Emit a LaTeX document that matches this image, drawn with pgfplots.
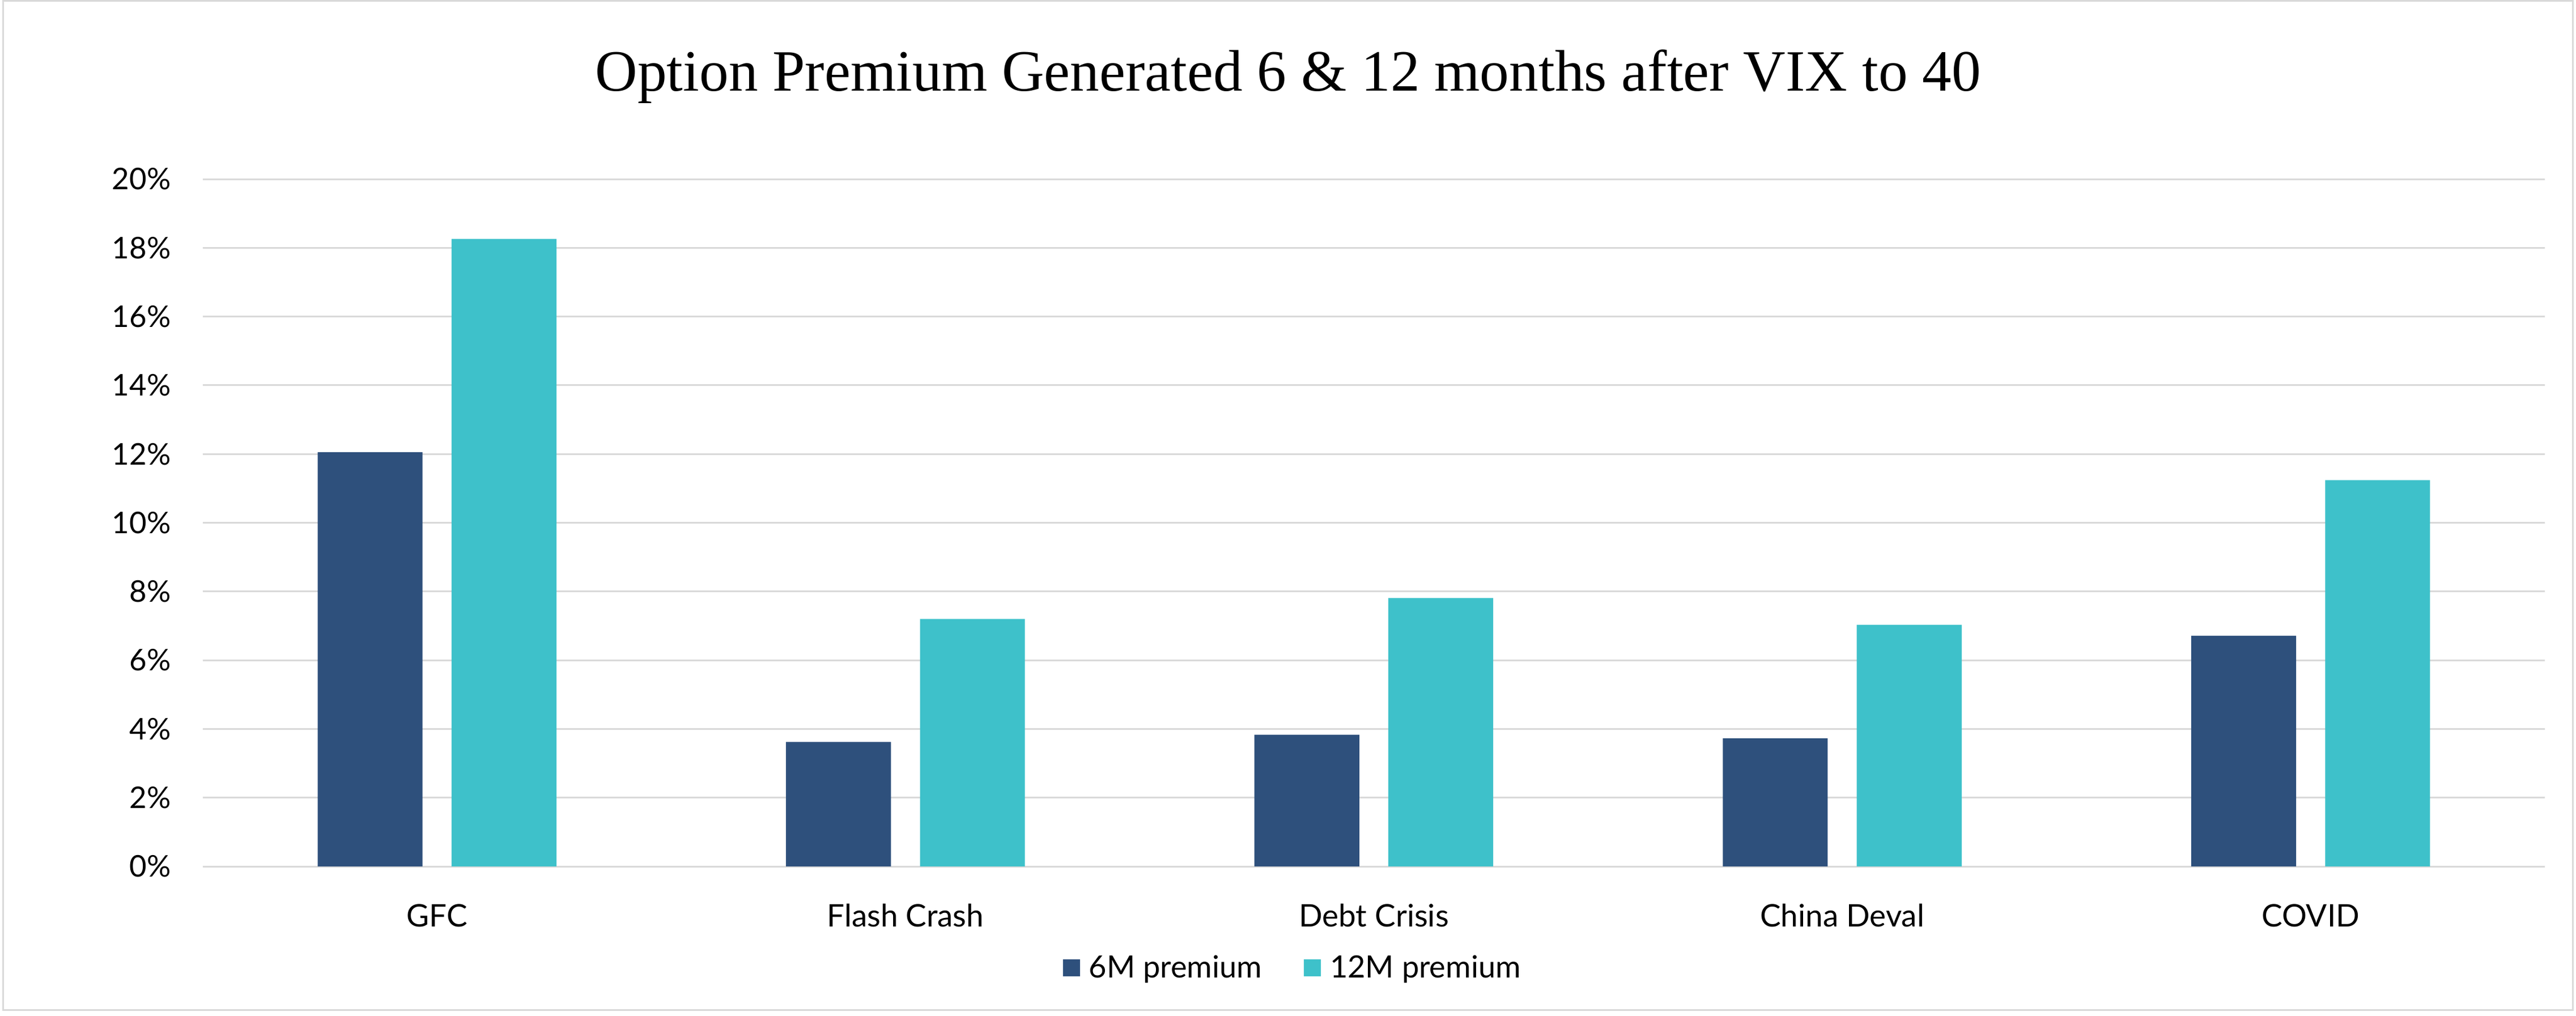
\documentclass[border=0pt]{standalone}
\usepackage{pgfplots}
\pgfplotsset{compat=1.18}
\usepackage{fontspec}
\setmainfont{Lato}
\newfontfamily\titlefont{Liberation Serif}

\definecolor{sixm}{HTML}{2E507C}
\definecolor{twelvem}{HTML}{3EC1CA}
\definecolor{gridgray}{HTML}{D9D9D9}

\begin{document}
\begin{tikzpicture}
\useasboundingbox (-3.58cm,-2.63cm) rectangle (41.88cm,15.29cm);
\draw[gridgray, line width=0.03cm] (-3.525cm,-2.535cm) rectangle (41.825cm,15.275cm);
\begin{axis}[
    at={(0,0)}, anchor=south west,
    scale only axis,
    width=41.33cm,
    height=12.13cm,
    xmin=-0.5, xmax=4.5,
    ymin=0, ymax=20,
    ytick={0,2,...,20},
    xtick={0,1,2,3,4},
    xticklabels={GFC,Flash Crash,Debt Crisis,China Deval,COVID},
    /pgf/number format/assume math mode=true,
    yticklabel={\pgfmathprintnumber{\tick}\%},
    axis line style={draw=none},
    tick style={draw=none},
    ymajorgrids,
    major grid style={gridgray, line width=0.03cm},
    tick label style={font=\fontsize{15}{18}\selectfont, inner sep=0pt},
    yticklabel style={anchor=east, xshift=-0.56cm},
    xticklabel style={anchor=base, yshift=-0.91cm, font=\fontsize{15.6}{18}\selectfont},
    ybar,
    bar width=0.224,
    title={\titlefont\fontsize{29.4}{34}\selectfont Option Premium Generated 6 \& 12 months after VIX to 40},
    title style={at={(axis description cs:0.4634,1.1105)}, anchor=base, inner sep=0pt},
    legend columns=2,
    legend style={at={(axis description cs:0.465,-0.1476)}, anchor=center,
        draw=none, fill=none, inner sep=0pt,
        font=\fontsize{15.4}{18}\selectfont,
        nodes={inner sep=0pt},
        /tikz/every odd column/.append style={column sep=0.16cm},
        /tikz/every even column/.append style={column sep=0.74cm}},
    legend image code/.code={\fill[#1] (0cm,-0.15cm) rectangle (0.30cm,0.155cm);},
]
\addplot[draw=none, fill=sixm, bar shift=-0.143] coordinates {
    (0,12.05) (1,3.62) (2,3.83) (3,3.73) (4,6.71)
};
\addplot[draw=none, fill=twelvem, bar shift=0.143] coordinates {
    (0,18.26) (1,7.20) (2,7.81) (3,7.03) (4,11.24)
};
\legend{6M premium, 12M premium}
\end{axis}
\end{tikzpicture}
\end{document}
